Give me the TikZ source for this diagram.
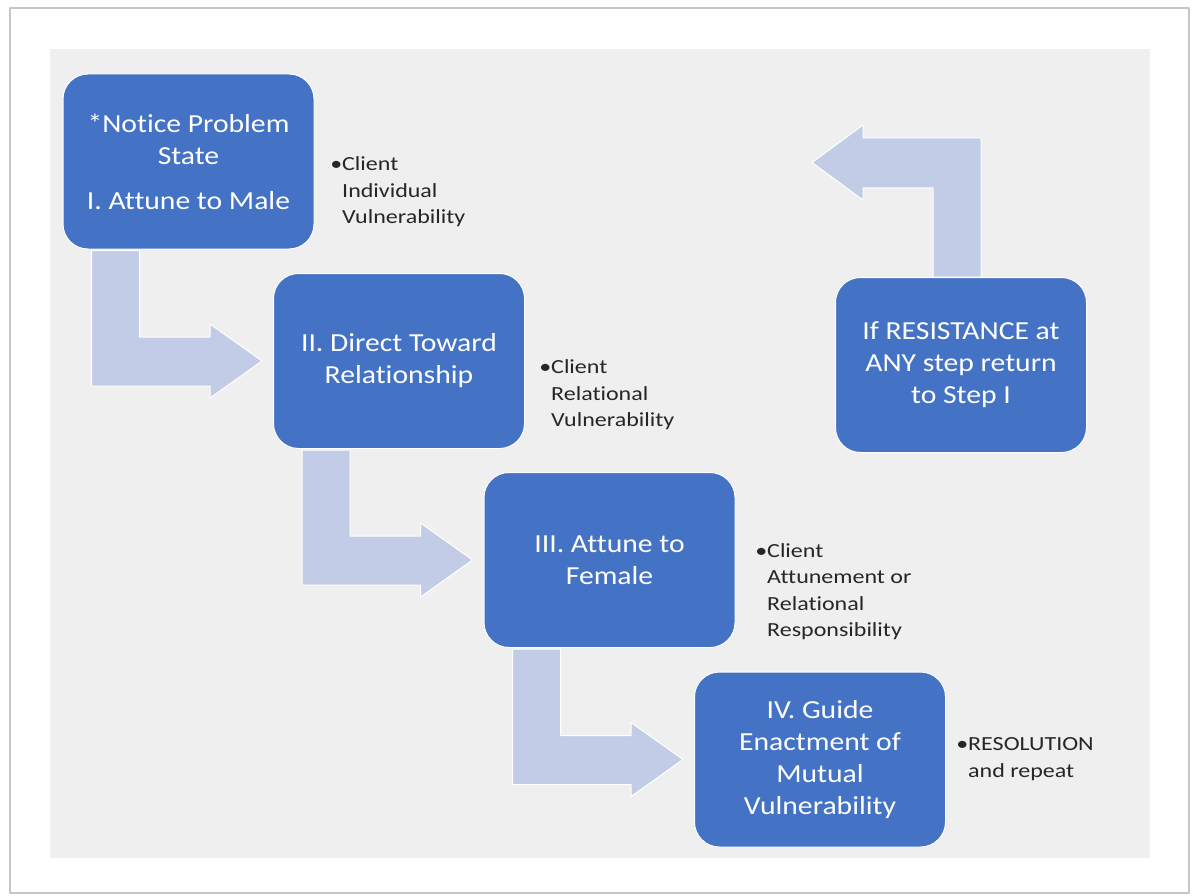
\documentclass[tikz,border=0pt]{standalone}
\usepackage{fontspec}
\setmainfont{Carlito}
\newfontfamily\stepfont{Carlito}[FakeStretch=1.14, Ligatures=NoCommon]
\newfontfamily\notefont{Carlito}[FakeStretch=1.2, Ligatures=NoCommon]
\usetikzlibrary{calc}
\definecolor{stepblue}{HTML}{4472C4}
\definecolor{arrowblue}{HTML}{C3CCE6}
\definecolor{panelgrey}{HTML}{EFEFEF}
\tikzset{
  stepbox/.style={rectangle, rounded corners=25pt, fill=stepblue, draw=white, line width=1pt,
    minimum width=251pt, minimum height=175pt, text=white, align=center,
    font=\stepfont\fontsize{26}{32}\selectfont},
  note/.style={anchor=west, align=left, inner sep=0pt, text=black!85,
    font=\notefont\fontsize{20}{26.5}\selectfont},
  bendarrow/.style={fill=arrowblue, draw=white, line width=1pt},
}
\begin{document}
\begin{tikzpicture}[line cap=round,line join=round,x=1pt,y=-1pt]
  \useasboundingbox (0,0) rectangle (1193,896);
  % page and panel
  \fill[white] (0,0) rectangle (1193,896);
  \draw[gray!45, line width=1.5pt] (10,8) rectangle (1189,893);
  \fill[panelgrey] (50,49) rectangle (1150,858);

  % steps
  \node[stepbox] (n1) at (188.5,161.5) {*Notice Problem\\State\\[13pt]I. Attune to Male};
  \node[stepbox] (n2) at (399,361) {II. Direct Toward\\Relationship};
  \node[stepbox] (n3) at (609.5,560) {III. Attune to\\Female};
  \node[stepbox] (n4) at (820,759.5) {IV. Guide\\Enactment of\\Mutual\\Vulnerability};
  \node[stepbox] (nr) at (961,365) {If RESISTANCE at\\ANY step return\\to Step I};

  % notes
  \node[note] (s1) at (342,192) {\llap{\textbullet}Client\\Individual\\Vulnerability};
  \node[note] (s2) at (551,395) {\llap{\textbullet}Client\\Relational\\Vulnerability};
  \node[note] (s3) at (767,591.5) {\llap{\textbullet}Client\\Attunement or\\Relational\\Responsibility};
  \node[note] (s4) at (968,759) {\llap{\textbullet}RESOLUTION\\and repeat};

  % bent arrows between steps
  \foreach \a/\b in {n1/n2,n2/n3,n3/n4}{
    \coordinate (tail) at ($(\a.south west)+(29,1)$);
    \coordinate (tip) at ($(\b.west)+(-11,0)$);
    \draw[bendarrow] (tail) -- ++(48,0) |- ($(tip)+(-52,-24)$) -- ++(0,-13) -- (tip)
      -- ++(-52,37) -- ++(0,-12) -| (tail) -- cycle;
  }

  % return arrow
  \coordinate (rtail) at ($(nr.north west)+(98,0)$);
  \coordinate (ret) at (812,162.5);
  \draw[bendarrow] (rtail) -- ++(48,0) |- ($(ret)+(51,-24.5)$) -- ++(0,-13) -- (ret)
    -- ++(51,37.5) -- ++(0,-12) -| (rtail) -- cycle;
\end{tikzpicture}
\end{document}
